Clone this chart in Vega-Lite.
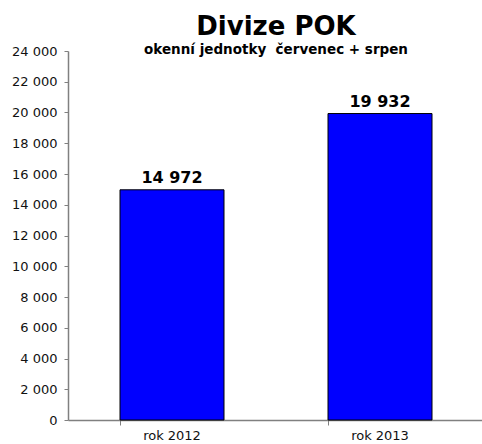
{
  "$schema": "https://vega.github.io/schema/vega-lite/v6.json",
  "autosize": {"type": "none"},
  "padding": {"left": 68, "top": 51, "right": 0, "bottom": 24},
  "width": 416,
  "height": 369,
  "background": "white",
  "title": {
    "text": "Divize POK",
    "subtitle": "okenní jednotky\u00a0 červenec + srpen",
    "anchor": "middle",
    "frame": "group",
    "font": "DejaVu Sans",
    "fontSize": 26,
    "fontWeight": "bold",
    "color": "black",
    "subtitleFont": "DejaVu Sans",
    "subtitleFontSize": 13.5,
    "subtitleFontWeight": "bold",
    "subtitleColor": "black",
    "subtitlePadding": 3,
    "offset": -11
  },
  "config": {
    "locale": {"number": {"decimal": ",", "thousands": " ", "grouping": [3], "currency": ["", " Kč"]}},
    "view": {"stroke": null},
    "axis": {"labelFont": "DejaVu Sans", "labelFontSize": 13, "labelColor": "#111111", "domainColor": "#808080", "tickColor": "#808080", "grid": false, "title": null}
  },
  "data": {"values": [
    {"rok": "rok 2012", "hodnota": 14972},
    {"rok": "rok 2013", "hodnota": 19932}
  ]},
  "encoding": {
    "x": {"field": "rok", "type": "nominal", "scale": {"paddingInner": 0.5, "paddingOuter": 0.25},
      "axis": {"labelAngle": 0, "bandPosition": 0, "tickSize": 5, "labelPadding": 4, "domainWidth": 1.5}},
    "y": {"field": "hodnota", "type": "quantitative", "scale": {"domain": [0, 24000], "nice": false},
      "axis": {"values": [0,2000,4000,6000,8000,10000,12000,14000,16000,18000,20000,22000,24000], "format": ",d", "tickSize": 4, "labelPadding": 7, "domainWidth": 1.5}}
  },
  "layer": [
    {"mark": {"type": "bar", "color": "#0000FF", "stroke": "black", "strokeWidth": 1}},
    {"mark": {"type": "text", "dy": -7, "baseline": "alphabetic", "font": "DejaVu Sans", "fontSize": 16, "fontWeight": "bold", "color": "black"},
     "encoding": {"text": {"field": "hodnota", "type": "quantitative", "format": ",d"}}}
  ]
}
